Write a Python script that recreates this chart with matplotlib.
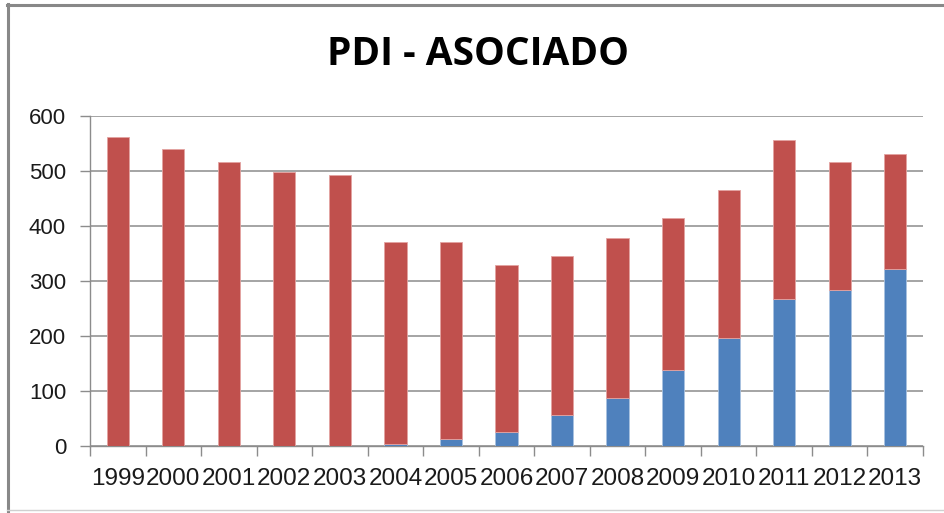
import matplotlib
matplotlib.use("Agg")
import matplotlib.pyplot as plt
from matplotlib.lines import Line2D
import numpy as np

years = ["1999", "2000", "2001", "2002", "2003", "2004", "2005", "2006",
         "2007", "2008", "2009", "2010", "2011", "2012", "2013"]
blue_values = [0, 0, 0, 0, 0, 3, 12, 26, 56, 87, 138, 197, 267, 283, 322]
totals = [561, 540, 516, 499, 492, 371, 371, 330, 346, 379, 414, 465, 556, 516, 530]
red_values = [t - b for t, b in zip(totals, blue_values)]
y_ticks = [0, 100, 200, 300, 400, 500, 600]
title = "PDI - ASOCIADO"

W, H = 944, 513
fig = plt.figure(figsize=(W / 100, H / 100), dpi=100)
fig.patch.set_facecolor("white")

ax = fig.add_axes([90 / W, 1 - 446 / H, (923 - 90) / W, (446 - 116) / H])

x = np.arange(len(years))
grid_c = "#8c8c8c"
ax.bar(x, blue_values, width=0.4, color="#4F81BD", edgecolor="#a9c2e0",
       linewidth=0.6, zorder=3)
ax.bar(x, red_values, width=0.4, bottom=blue_values, color="#C0504D",
       edgecolor="#e3a3a1", linewidth=0.6, zorder=3)

ax.set_xlim(-0.5, len(years) - 0.5)
ax.set_ylim(0, 600)
ax.set_yticks(y_ticks)
ax.set_yticklabels([str(v) for v in y_ticks], fontsize=16,
                   family="Liberation Sans", color="#1a1a1a")
ax.yaxis.grid(True, color=grid_c, linewidth=1.1, zorder=0)
ax.tick_params(axis="y", direction="out", length=7.2, width=1.0,
               color=grid_c, pad=10)

ax.set_xticks(x)
ax.set_xticklabels(years, fontsize=17.5, family="Liberation Sans",
                   color="#1a1a1a")
ax.set_xticks(np.arange(-0.5, len(years)), minor=True)
ax.tick_params(axis="x", which="major", length=0, pad=16)
ax.tick_params(axis="x", which="minor", direction="out", length=7.2,
               width=1.0, color=grid_c)

for side in ["top", "right"]:
    ax.spines[side].set_visible(False)
for side in ["left", "bottom"]:
    ax.spines[side].set_color(grid_c)
    ax.spines[side].set_linewidth(1.0)

fig.text(478 / W, 1 - 55 / H, title, ha="center", va="center",
         fontsize=28, fontweight="bold", family="Open Sans", color="#000000")

# chart frame
fc = "#888888"
fig.add_artist(Line2D([7 / W, 1], [1 - 4.5 / H, 1 - 4.5 / H],
                      transform=fig.transFigure, color=fc, linewidth=2.2))
fig.add_artist(Line2D([7.5 / W, 7.5 / W], [1 - 4 / H, 0],
                      transform=fig.transFigure, color=fc, linewidth=2.2))
fig.add_artist(Line2D([7 / W, 1], [1 - 509.5 / H, 1 - 509.5 / H],
                      transform=fig.transFigure, color="#d0d0d0", linewidth=1.0))

fig.savefig("out.png", dpi=100)
